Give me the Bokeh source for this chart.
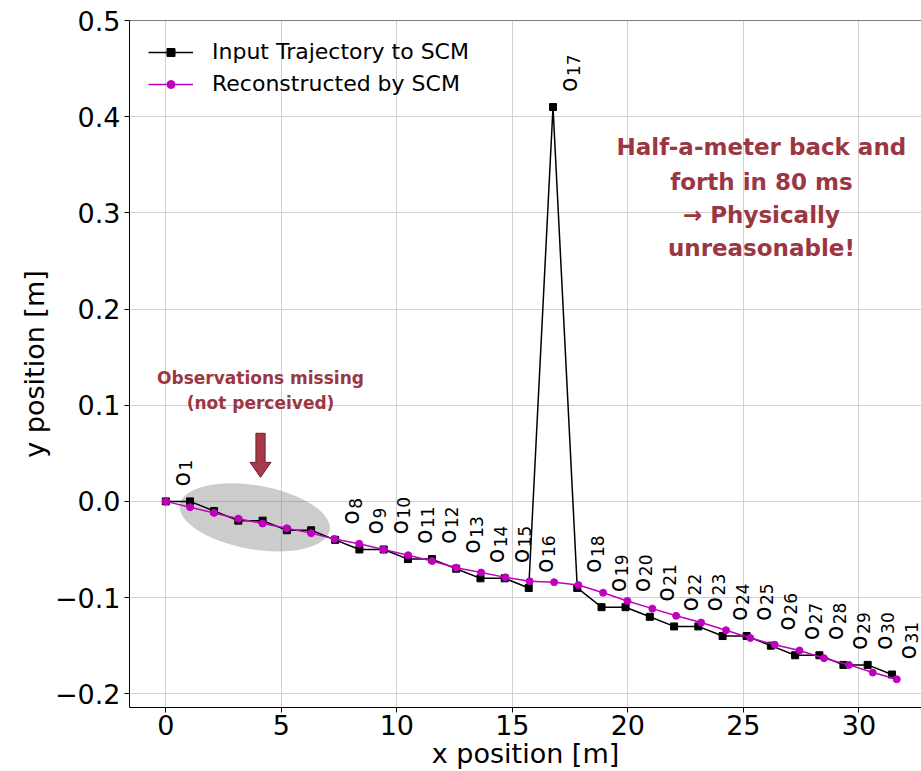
import math
from bokeh.plotting import figure
from bokeh.models import FixedTicker, CustomJSTickFormatter, Span
from bokeh.core.properties import value
from bokeh.embed import file_html
from bokeh.resources import INLINE

# ---------------- data ----------------
x_in = [0.0, 1.05, 2.09, 3.14, 4.19, 5.24, 6.29, 7.33, 8.38, 9.43, 10.48, 11.52, 12.57,
        13.62, 14.67, 15.71, 16.76, 17.81, 18.86, 19.90, 20.95, 22.00, 23.05, 24.10,
        25.14, 26.19, 27.24, 28.29, 29.33, 30.38, 31.43]
y_in = [0.00, 0.00, -0.01, -0.02, -0.02, -0.03, -0.03, -0.04, -0.05, -0.05, -0.06, -0.06,
        -0.07, -0.08, -0.08, -0.09, 0.41, -0.09, -0.11, -0.11, -0.12, -0.13, -0.13, -0.14,
        -0.14, -0.15, -0.16, -0.16, -0.17, -0.17, -0.18]

x_rec = [0.0, 1.05, 2.09, 3.14, 4.19, 5.24, 6.29, 7.30, 8.37, 9.42, 10.49, 11.53, 12.57,
         13.65, 14.70, 15.75, 16.81, 17.86, 18.93, 19.98, 21.06, 22.09, 23.17, 24.25,
         25.30, 26.36, 27.43, 28.49, 29.57, 30.60, 31.64]
y_rec = [0.000, -0.006, -0.012, -0.018, -0.023, -0.028, -0.033, -0.039, -0.044, -0.050,
         -0.056, -0.062, -0.069, -0.074, -0.079, -0.083, -0.084, -0.087, -0.095, -0.1035,
         -0.1115, -0.119, -0.126, -0.134, -0.142, -0.149, -0.155, -0.163, -0.170, -0.178,
         -0.185]

# observation labels (o_n) shown at these points of the input trajectory
obs_index = [0] + list(range(7, 31))
obs_sub = [str(i + 1) for i in obs_index]

x_ticks = [0, 5, 10, 15, 20, 25, 30]
y_ticks = [-0.2, -0.1, 0.0, 0.1, 0.2, 0.3, 0.4, 0.5]

label_in = "Input Trajectory to SCM"
label_rec = "Reconstructed by SCM"
note_right = ["Half-a-meter back and", "forth in 80 ms", "\u2192 Physically", "unreasonable!"]
note_left = ["Observations missing", "(not perceived)"]

# ---------------- figure ----------------
ANN = "#9b3743"
FONT = "DejaVu Sans"

p = figure(width=921, height=771, output_backend="svg", toolbar_location=None,
           x_range=(-1.571, 32.71), y_range=(-0.2143, 0.5),
           min_border_left=129, min_border_right=0, min_border_top=20, min_border_bottom=64)
p.outline_line_color = None
p.background_fill_color = "white"

for ax in (p.xaxis[0], p.yaxis[0]):
    ax.major_label_text_font = FONT
    ax.major_label_text_font_size = "27px"
    ax.major_label_text_color = "black"
    ax.axis_label_text_font = FONT
    ax.axis_label_text_font_size = "27px"
    ax.axis_label_text_font_style = "normal"
    ax.axis_label_text_color = "black"
    ax.major_tick_in = 0
    ax.major_tick_out = 5
    ax.minor_tick_line_color = None
    ax.axis_line_color = "black"
    ax.major_tick_line_color = "black"

p.xaxis.axis_label = "x position [m]"
p.yaxis.axis_label = "y position [m]"
p.xaxis.ticker = FixedTicker(ticks=x_ticks)
p.yaxis.ticker = FixedTicker(ticks=y_ticks)
p.yaxis.formatter = CustomJSTickFormatter(code="return tick.toFixed(1).replace('-', '\\u2212');")
p.xaxis.major_label_standoff = 2
p.xaxis.axis_label_standoff = 0
p.yaxis.major_label_standoff = 4
p.yaxis.axis_label_standoff = 2

p.grid.grid_line_color = "#d0d0d0"
p.grid.grid_line_width = 1

p.add_layout(Span(location=0.5, dimension="width", line_color="black", line_width=1))

# grey ellipse around the missing observations
p.ellipse(x=[3.85], y=[-0.0166], width=[152], height=[64], angle=-0.17,
          width_units="screen", height_units="screen",
          fill_color="gray", fill_alpha=0.4, line_color=None)

# trajectories
p.line(x_in, y_in, line_color="black", line_width=1.5, legend_label=label_in)
p.scatter(x_in, y_in, marker="square", size=7, color="black", legend_label=label_in)
p.line(x_rec, y_rec, line_color="#bf00bf", line_width=1.5, legend_label=label_rec)
p.scatter(x_rec, y_rec, marker="circle", size=7, color="#bf00bf", legend_label=label_rec)

# observation labels o_n (rotated)
lx = [x_in[i] for i in obs_index]
ly = [y_in[i] for i in obs_index]
p.text(x=lx, y=ly, text=["o"] * len(lx), angle=math.pi / 2, x_offset=16, y_offset=-15,
       text_align="left", text_baseline="alphabetic", text_font=value(FONT),
       text_font_size="24px", text_color="black")
p.text(x=lx, y=ly, text=obs_sub, angle=math.pi / 2, x_offset=20, y_offset=-31,
       text_align="left", text_baseline="alphabetic", text_font=value(FONT),
       text_font_size="17px", text_color="black")

# annotations
XPU, YPU = 23.1, 961.0
p.text(x=[25.78] * 4, y=[0.3684, 0.332, 0.2976, 0.2633], text=note_right,
       text_align="center", text_baseline="middle", text_font=value(FONT),
       text_font_style="bold", text_font_size="23px", text_color=ANN)
p.text(x=[4.1] * 2, y=[0.128, 0.1023], text=note_left,
       text_align="center", text_baseline="middle", text_font=value(FONT),
       text_font_style="bold", text_font_size="17px", text_color=ANN)

ax0, top, base, tip = 4.1, 0.0708, 0.0406, 0.025
sw, hw = 4.6 / XPU, 10.5 / XPU
p.patch([ax0 - sw, ax0 + sw, ax0 + sw, ax0 + hw, ax0, ax0 - hw, ax0 - sw],
        [top, top, base, base, tip, base, base],
        fill_color="#a63a48", line_color="#6e2029", line_width=1)

# legend
lg = p.legend[0]
lg.location = "top_left"
lg.margin = 19
lg.padding = 0
lg.spacing = 7
lg.glyph_width = 45
lg.glyph_height = 20
lg.label_standoff = 19
lg.label_text_font = FONT
lg.label_text_font_size = "22px"
lg.label_text_color = "black"
lg.border_line_color = None
lg.background_fill_alpha = 0

open("out.html", "w").write(file_html(p, INLINE))
